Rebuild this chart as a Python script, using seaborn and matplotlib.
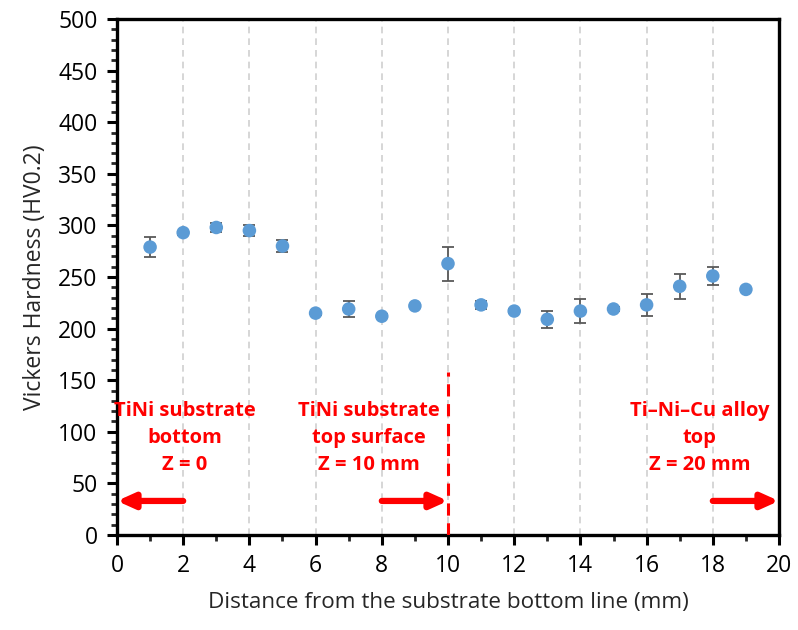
import matplotlib
matplotlib.use("Agg")
import matplotlib.pyplot as plt
import pandas as pd
import seaborn as sns
from matplotlib.ticker import MultipleLocator

distance = [1, 2, 3, 4, 5, 6, 7, 8, 9, 10, 11, 12, 13, 14, 15, 16, 17, 18, 19]
hardness = [279, 293, 298, 295, 280, 215, 219, 212, 222, 263, 223, 217, 209, 217, 219, 223, 241, 251, 238]
hardness_err = [10, 2, 4, 5.5, 6, 1.5, 8, 2, 2, 16.5, 4, 2, 8, 11.5, 2, 10.5, 12, 8.5, 1.5]

labels = ["TiNi substrate\nbottom\nZ = 0",
          "TiNi substrate\ntop surface\nZ = 10 mm",
          "Ti\u2013Ni\u2013Cu alloy\ntop\nZ = 20 mm"]
label_x = [2.05, 7.6, 17.6]
arrow_from = [2, 8, 18]
arrow_to = [0, 10, 20]

df = pd.DataFrame({"distance": distance, "hardness": hardness, "err": hardness_err})

sns.set_style("white")
plt.rcParams["font.family"] = ["Open Sans", "DejaVu Sans"]

fig = plt.figure(figsize=(7.98, 6.3), dpi=100)
ax = fig.add_axes([0.1466, 0.1508, 0.8296, 0.819])

for gx in range(2, 20, 2):
    ax.axvline(gx, color="#d0d0d0", lw=1.2, ls=(0, (4, 3)), zorder=0)

ax.errorbar(df["distance"], df["hardness"], yerr=df["err"], fmt="none",
            ecolor="#595959", elinewidth=1.3, capsize=4, capthick=1.3, zorder=2)
sns.scatterplot(data=df, x="distance", y="hardness", ax=ax, s=95,
                color="#5B9BD5", edgecolor="none", zorder=3)

# red marker line at the substrate top surface
ax.plot([10, 10], [0, 158], color="red", lw=2.2, ls=(0, (4, 2.5)), zorder=4)

for lx, txt in zip(label_x, labels):
    ax.text(lx, 94, txt, color="red", fontsize=14.5, fontweight="bold",
            ha="center", va="center", linespacing=1.48)

for a, b in zip(arrow_from, arrow_to):
    ax.annotate("", xy=(b, 33), xytext=(a, 33),
                arrowprops=dict(arrowstyle="-|>,head_length=1.0,head_width=0.45",
                                color="red", lw=4.5, shrinkA=0, shrinkB=0),
                zorder=5)

ax.set_xlim(0, 20)
ax.set_ylim(0, 500)
ax.xaxis.set_major_locator(MultipleLocator(2))
ax.xaxis.set_minor_locator(MultipleLocator(1))
ax.yaxis.set_major_locator(MultipleLocator(50))
ax.yaxis.set_minor_locator(MultipleLocator(10))
ax.tick_params(which="major", direction="out", length=7, width=2.2,
               labelsize=16.5, colors="black", pad=7, left=True, bottom=True)
ax.tick_params(which="minor", direction="out", length=4, width=2,
               left=True, bottom=True)
for sp in ax.spines.values():
    sp.set_visible(True)
    sp.set_color("black")
    sp.set_linewidth(2.4)

ax.set_xlabel("Distance from the substrate bottom line (mm)", fontsize=16.2, labelpad=10)
ax.set_ylabel("Vickers Hardness (HV0.2)", fontsize=16.5, labelpad=8)

fig.savefig("out.png", dpi=100)
